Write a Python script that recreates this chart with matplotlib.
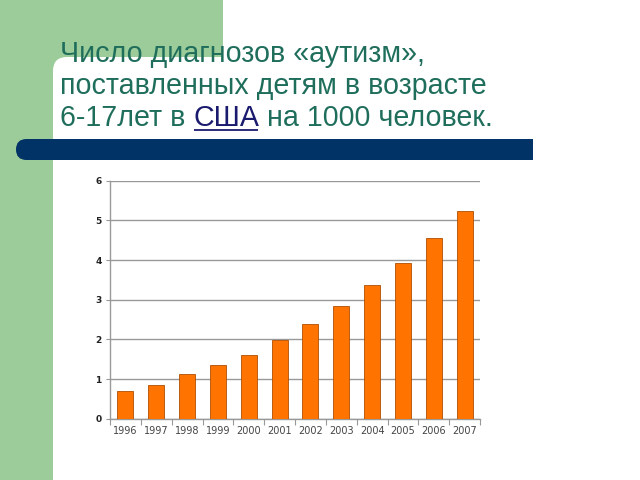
import matplotlib
matplotlib.use("Agg")
import matplotlib.pyplot as plt
from matplotlib.patches import Rectangle, FancyBboxPatch
from matplotlib.ticker import FixedLocator, NullFormatter

years = ["1996", "1997", "1998", "1999", "2000", "2001", "2002", "2003",
         "2004", "2005", "2006", "2007"]
values = [0.69, 0.84, 1.12, 1.36, 1.60, 1.98, 2.39, 2.85, 3.37, 3.93, 4.56, 5.23]
yticks = [0, 1, 2, 3, 4, 5, 6]

title_lines = ["Число диагнозов «аутизм»,", "поставленных детям в возрасте"]
title_l3 = ["6-17лет в ", "США", " на 1000 человек."]

GREEN = "#9ccc9a"
NAVY = "#023366"
TEXT = "#1f6e5c"
LINK = "#1a1a6e"

fig = plt.figure(figsize=(6.4, 4.8), dpi=100)
fig.patch.set_facecolor("white")

bg = fig.add_axes([0, 0, 1, 1], zorder=0)
bg.set_xlim(0, 640)
bg.set_ylim(480, 0)
bg.axis("off")
bg.add_patch(Rectangle((0, 0), 53, 480, facecolor=GREEN, edgecolor="none"))
bg.add_patch(Rectangle((0, 0), 223, 70, facecolor=GREEN, edgecolor="none"))
bg.add_patch(FancyBboxPatch((53, 57), 700, 500, boxstyle="round,pad=0,rounding_size=14",
                            facecolor="white", edgecolor="none"))
bg.add_patch(FancyBboxPatch((16, 139), 540, 21, boxstyle="round,pad=0,rounding_size=10.5",
                            facecolor=NAVY, edgecolor="none"))
bg.add_patch(Rectangle((533, 130), 40, 40, facecolor="white", edgecolor="none"))

fs = 20.6
fam = ["Liberation Sans", "DejaVu Sans"]
x0 = 60
bg.text(x0, 62, title_lines[0], fontsize=fs, family=fam, color=TEXT, va="baseline")
bg.text(x0, 94, title_lines[1], fontsize=fs, family=fam, color=TEXT, va="baseline")

fig.canvas.draw()
r = fig.canvas.get_renderer()
inv = bg.transData.inverted()
x = x0
colors = [TEXT, LINK, TEXT]
for i, s in enumerate(title_l3):
    t = bg.text(x, 126, s, fontsize=fs, family=fam, color=colors[i], va="baseline")
    bb = t.get_window_extent(renderer=r)
    (xa, _), (xb, _) = inv.transform([[bb.x0, 0], [bb.x1, 0]])
    if i == 1:
        bg.plot([xa + 1, xb - 1], [129.5, 129.5], color=LINK, lw=1.3, solid_capstyle="butt")
    x = xb

ax = fig.add_axes([110 / 640, (480 - 418.7) / 480, (480 - 110) / 640, (418.7 - 180.7) / 480], zorder=2)
ax.set_facecolor("none")
pos = list(range(len(years)))
ax.bar(pos, values, width=0.52, color="#ff7400", edgecolor="#b04e00", linewidth=0.6, zorder=3)
ax.set_xlim(-0.5, len(years) - 0.5)
ax.set_ylim(0, 6)
ax.set_yticks(yticks)
ax.set_yticklabels([str(v) for v in yticks], fontsize=6.5, fontweight="bold", color="#222222",
                   family="DejaVu Sans")
ax.yaxis.grid(True, color="#999999", linewidth=1.0, zorder=0)
ax.tick_params(axis="y", length=3, color="#999999", pad=3)
ax.set_xticks(pos)
ax.set_xticklabels(years, fontsize=7, color="#444444", family="DejaVu Sans")
ax.tick_params(axis="x", which="major", length=0, pad=5)
ax.xaxis.set_minor_locator(FixedLocator([p + 0.5 for p in pos[:-1]] + [-0.5, len(years) - 0.5]))
ax.xaxis.set_minor_formatter(NullFormatter())
ax.tick_params(axis="x", which="minor", length=4, color="#999999", width=0.8)
for s in ["top", "right"]:
    ax.spines[s].set_visible(False)
for s in ["left", "bottom"]:
    ax.spines[s].set_color("#999999")
    ax.spines[s].set_linewidth(1.0)
ax.set_axisbelow(True)

fig.savefig("out.png", dpi=100)
